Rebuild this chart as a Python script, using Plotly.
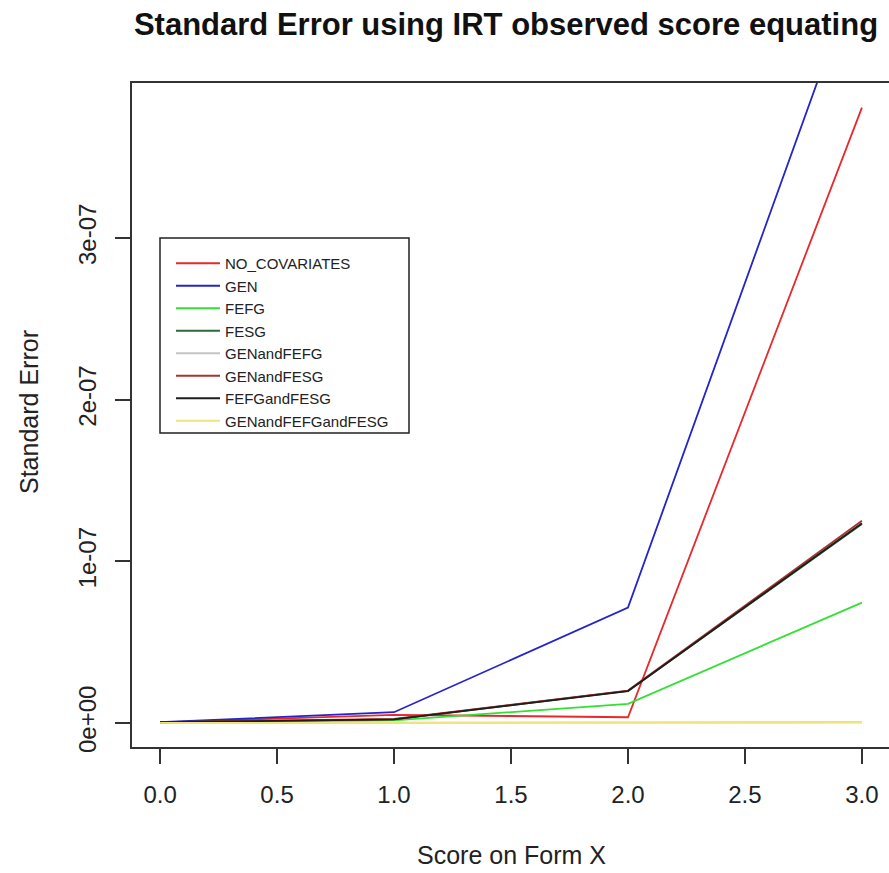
import plotly.graph_objects as go

# ---- data ----
score = [0, 1, 2, 3]
no_covariates = [0.3e-09, 5.0e-09, 3.5e-09, 3.806e-07]
gen = [0.5e-09, 6.6e-09, 7.13e-08, 4.73e-07]
fefg = [0.3e-09, 1.5e-09, 1.18e-08, 7.44e-08]
fesg = [0.4e-09, 2.2e-09, 1.98e-08, 1.23e-07]
gen_and_fefg = [0.0, 0.2e-09, 0.3e-09, 0.4e-09]
gen_and_fesg = [0.4e-09, 2.4e-09, 2.0e-08, 1.25e-07]
fefg_and_fesg = [0.4e-09, 2.2e-09, 1.97e-08, 1.235e-07]
gen_and_fefg_and_fesg = [0.0, 0.1e-09, 0.2e-09, 0.3e-09]

series_names = ["NO_COVARIATES", "GEN", "FEFG", "FESG", "GENandFEFG",
                "GENandFESG", "FEFGandFESG", "GENandFEFGandFESG"]
series_values = [no_covariates, gen, fefg, fesg, gen_and_fefg,
                 gen_and_fesg, fefg_and_fesg, gen_and_fefg_and_fesg]
series_colors = ["#E8282A", "#2424C8", "#33E033", "#2F6A3A", "#C4C4C4",
                 "#A8342E", "#1E1E1E", "#EDE57A"]

x_tickvals = [0.0, 0.5, 1.0, 1.5, 2.0, 2.5, 3.0]
x_ticktext = ["0.0", "0.5", "1.0", "1.5", "2.0", "2.5", "3.0"]
y_tickvals = [0, 1e-07, 2e-07, 3e-07]
y_ticktext = ["0e+00", "1e-07", "2e-07", "3e-07"]

FONT = "Liberation Sans, Arial, Helvetica, sans-serif"

fig = go.Figure()
for name, vals, col in zip(series_names, series_values, series_colors):
    fig.add_trace(go.Scatter(x=score, y=vals, mode="lines", name=name,
                             line=dict(color=col, width=1.8)))

W, H = 889, 873
ml, mr, mt, mb = 132, 0, 83, 126
pw, ph = W - ml - mr, H - mt - mb

# R-style 4% padding, based on the first series
ymin, ymax = min(no_covariates), max(no_covariates)
yr = ymax - ymin
y_range = [ymin - 0.04 * yr, ymax + 0.04 * yr]
x_range = [-0.12, -0.12 + 3.24 * pw / (890 - 132)]

axis_common = dict(showgrid=False, zeroline=False, ticks="outside", ticklen=15,
                   tickwidth=1.5, tickcolor="#333333", showline=True,
                   linecolor="#333333", linewidth=1.6,
                   tickfont=dict(family=FONT, size=24, color="#222222"))

fig.update_layout(
    width=W, height=H,
    margin=dict(l=ml, r=mr, t=mt, b=mb),
    paper_bgcolor="white", plot_bgcolor="white",
    showlegend=True,
    title=dict(text="<b>Standard Error using IRT observed score equating</b>",
               font=dict(family=FONT, size=31, color="#111111"),
               x=506 / W, xref="container", xanchor="center",
               y=1 - 24 / H, yref="container", yanchor="middle"),
    xaxis=dict(range=x_range, tickvals=x_tickvals, ticktext=x_ticktext,
               mirror=True, ticklabelstandoff=10, **axis_common),
    yaxis=dict(range=y_range, tickvals=y_tickvals, ticktext=y_ticktext,
               tickangle=-90, mirror=False, ticklabelstandoff=10, **axis_common),
    legend=dict(x=(171 - ml) / pw, y=(mt + ph - 247) / ph, xanchor="left",
                yanchor="top", bgcolor="rgba(0,0,0,0)", borderwidth=0,
                font=dict(family=FONT, size=15, color="#222222"),
                itemwidth=44),
    shapes=[dict(type="rect", xref="paper", yref="paper",
                 x0=(160 - ml) / pw, x1=(409 - ml) / pw,
                 y0=(mt + ph - 433) / ph, y1=(mt + ph - 238) / ph,
                 line=dict(color="#222222", width=1.5), fillcolor="white",
                 layer="above")],
    annotations=[
        dict(text="Score on Form X", xref="paper", yref="paper",
             x=(511 - ml) / pw, y=(mt + ph - 855) / ph, showarrow=False,
             xanchor="center", yanchor="middle",
             font=dict(family=FONT, size=25, color="#222222")),
        dict(text="Standard Error", xref="paper", yref="paper",
             x=(29 - ml) / pw, y=(mt + ph - 412) / ph, showarrow=False,
             textangle=-90, xanchor="center", yanchor="middle",
             font=dict(family=FONT, size=25, color="#222222")),
    ],
)

fig.write_html("out.html", config={"displayModeBar": False},
               post_script="document.body.style.margin='0';"
                           "document.body.style.overflow='hidden';")
